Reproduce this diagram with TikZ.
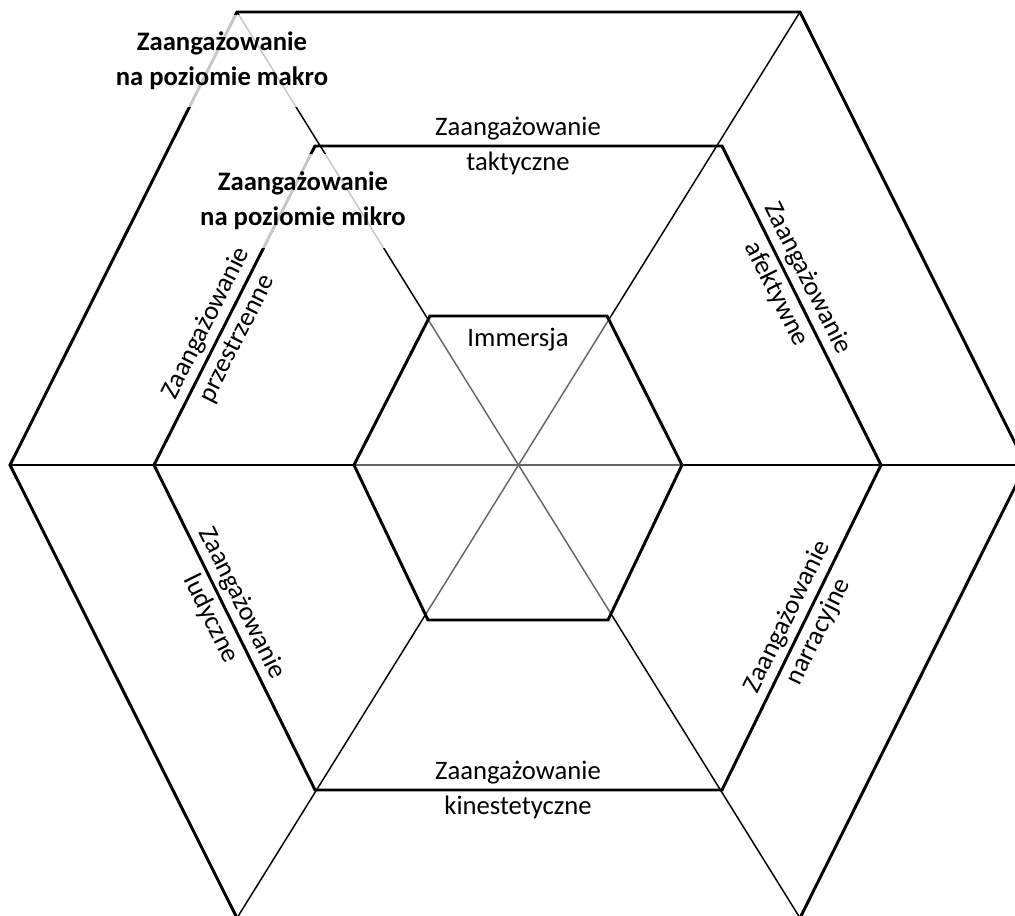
\documentclass[tikz,border=0pt]{standalone}
\usepackage{fontspec}
\setmainfont{Carlito}

\begin{document}
\begin{tikzpicture}[
  x=0.75pt, y=-0.75pt,
  hexline/.style={line width=2.2pt, line join=miter},
  spoke/.style={line width=1.1pt},
  lbl/.style={font=\fontsize{20}{26}\selectfont, align=center, inner sep=0pt},
  boldlbl/.style={lbl, font=\fontsize{20}{26}\selectfont\bfseries, fill=white, fill opacity=0.78, text opacity=1},
]
\useasboundingbox (0,0) rectangle (1015,916);
\clip (0,0) rectangle (1015,916);

% outer hexagon
\coordinate (o1) at (10,465);
\coordinate (o2) at (237,12);
\coordinate (o3) at (800,12);
\coordinate (o4) at (1026,465);
\coordinate (o5) at (800,918);
\coordinate (o6) at (237,918);
% middle hexagon
\coordinate (m1) at (154,465);
\coordinate (m2) at (315,146);
\coordinate (m3) at (722,146);
\coordinate (m4) at (881,465);
\coordinate (m5) at (722,790);
\coordinate (m6) at (315,790);
% inner hexagon
\coordinate (i1) at (354,465);
\coordinate (i2) at (430,316);
\coordinate (i3) at (607,316);
\coordinate (i4) at (682,465);
\coordinate (i5) at (608,620);
\coordinate (i6) at (428,620);

% spokes
\draw[spoke] (o1) -- (o4);
\draw[spoke] (o2) -- (o5);
\draw[spoke] (o3) -- (o6);
\fill[white, opacity=0.4] (i1) -- (i2) -- (i3) -- (i4) -- (i5) -- (i6) -- cycle;

% hexagons
\foreach \h in {o,m,i}
  \draw[hexline] (\h1) -- (\h2) -- (\h3) -- (\h4) -- (\h5) -- (\h6) -- cycle;

% labels
\node[lbl] (immersja) at (518,340) {Immersja};
\node[lbl] (taktyczne) at (518,146) {Zaangażowanie\\taktyczne};
\node[lbl] (kinest) at (518,790) {Zaangażowanie\\kinestetyczne};
\path (m1) -- (m2) node[lbl, sloped, pos=0.42] (przestrz) {Zaangażowanie\\przestrzenne};
\path (m3) -- (m4) node[lbl, sloped, pos=0.44] (afekt) {Zaangażowanie\\afektywne};
\path (m1) -- (m6) node[lbl, sloped, pos=0.45] (ludyczne) {Zaangażowanie\\ludyczne};
\path (m5) -- (m4) node[lbl, sloped, pos=0.51] (narrac) {Zaangażowanie\\narracyjne};

% levels
\node[boldlbl, minimum width=157pt, minimum height=69pt] (makro) at (222,61) {Zaangażowanie\\na poziomie makro};
\node[boldlbl, minimum width=157pt, minimum height=71pt] (mikro) at (303,201) {Zaangażowanie\\na poziomie mikro};
\end{tikzpicture}
\end{document}
